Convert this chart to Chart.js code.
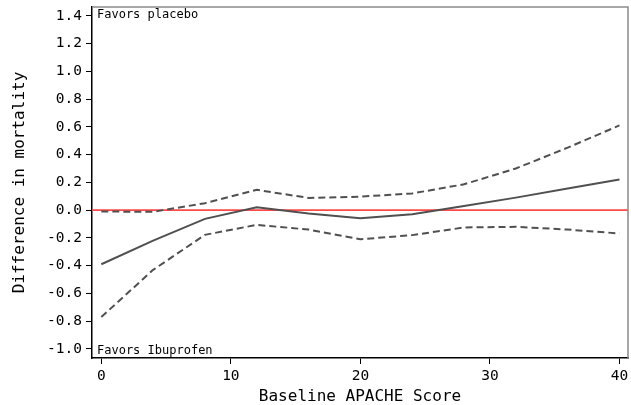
<!DOCTYPE html>
<html>
<head>
<meta charset="utf-8">
<script src="https://cdn.jsdelivr.net/npm/chart.js@4"></script>
<style>
  html,body{margin:0;padding:0;background:#fff;}
  #wrap{width:631px;height:405px;}
</style>
</head>
<body>
<div id="wrap"><canvas id="c" width="631" height="405"></canvas></div>
<script>
// APACHE score knots and difference in mortality (ibuprofen - placebo)
const apache=[0,4,8,12,16,20,24,28,32,36,40];
const diff=[-0.39,-0.22,-0.063,0.02,-0.025,-0.058,-0.03,0.03,0.09,0.155,0.22];
const upper=[-0.01,-0.012,0.05,0.146,0.088,0.097,0.12,0.186,0.30,0.45,0.61];
const lower=[-0.77,-0.43,-0.178,-0.106,-0.14,-0.21,-0.18,-0.125,-0.12,-0.14,-0.168];
const xTicks=[0,10,20,30,40];
const yTicks=[-1.0,-0.8,-0.6,-0.4,-0.2,0.0,0.2,0.4,0.6,0.8,1.0,1.2,1.4];
const refLine=[0,0];

const MONO='"DejaVu Sans Mono", monospace';
const xMin=-0.72, xMax=40.66, yMin=-1.065, yMax=1.463;

const pts=(ys)=>apache.map((x,i)=>({x:x,y:ys[i]}));

const frame={
  id:'frame',
  afterDatasetsDraw(chart){
    const {ctx,chartArea:a}=chart;
    ctx.save();
    ctx.strokeStyle='#8a8a8a';
    ctx.lineWidth=1.5;
    ctx.beginPath();
    ctx.moveTo(a.left,a.top);ctx.lineTo(a.right,a.top);ctx.lineTo(a.right,a.bottom);
    ctx.stroke();
    ctx.fillStyle='#000';
    ctx.font='12px '+MONO;
    ctx.textBaseline='alphabetic';
    ctx.fillText('Favors placebo',a.left+5,a.top+11);
    ctx.fillText('Favors Ibuprofen',a.left+5,a.bottom-4.5);
    ctx.restore();
  }
};

new Chart(document.getElementById('c'),{
  type:'line',
  data:{
    datasets:[
      {data:[{x:xMin,y:refLine[0]},{x:xMax,y:refLine[1]}], borderColor:'#ff4848', borderWidth:1.8, pointRadius:0, order:10},
      {data:pts(upper), borderColor:'#505050', borderWidth:2, borderDash:[7,4], pointRadius:0, order:2},
      {data:pts(lower), borderColor:'#505050', borderWidth:2, borderDash:[7,4], pointRadius:0, order:2},
      {data:pts(diff), borderColor:'#505050', borderWidth:2, pointRadius:0, order:1}
    ]
  },
  plugins:[frame],
  options:{
    responsive:false,
    animation:false,
    devicePixelRatio:1,
    layout:{padding:{top:7,right:3,left:0,bottom:0}},
    plugins:{legend:{display:false},tooltip:{enabled:false}},
    scales:{
      x:{
        type:'linear', min:xMin, max:xMax,
        afterBuildTicks(s){s.ticks=xTicks.map(v=>({value:v}));},
        afterFit(s){s.height=47;s.paddingLeft=0;s.paddingRight=0;},
        ticks:{color:'#000',font:{family:MONO,size:14.5},padding:4,maxRotation:0,callback:v=>String(v)},
        grid:{drawOnChartArea:false,drawTicks:true,tickLength:6,color:'#000'},
        border:{color:'#000',width:1.5},
        title:{display:true,text:'Baseline APACHE Score',color:'#000',font:{family:MONO,size:16,lineHeight:1.0},padding:{top:0,bottom:0}}
      },
      y:{
        type:'linear', min:yMin, max:yMax,
        afterBuildTicks(s){s.ticks=yTicks.map(v=>({value:v}));},
        afterFit(s){s.width=92;s.paddingTop=0;s.paddingBottom=0;},
        ticks:{color:'#000',font:{family:MONO,size:14.5},padding:4,callback:v=>(v<0?'-':'')+Math.abs(v).toFixed(1)},
        grid:{drawOnChartArea:false,drawTicks:true,tickLength:6,color:'#000'},
        border:{color:'#000',width:1.5},
        title:{display:true,text:'Difference in mortality',color:'#000',font:{family:MONO,size:16},padding:{top:10,bottom:0}}
      }
    }
  }
});
</script>
</body>
</html>
